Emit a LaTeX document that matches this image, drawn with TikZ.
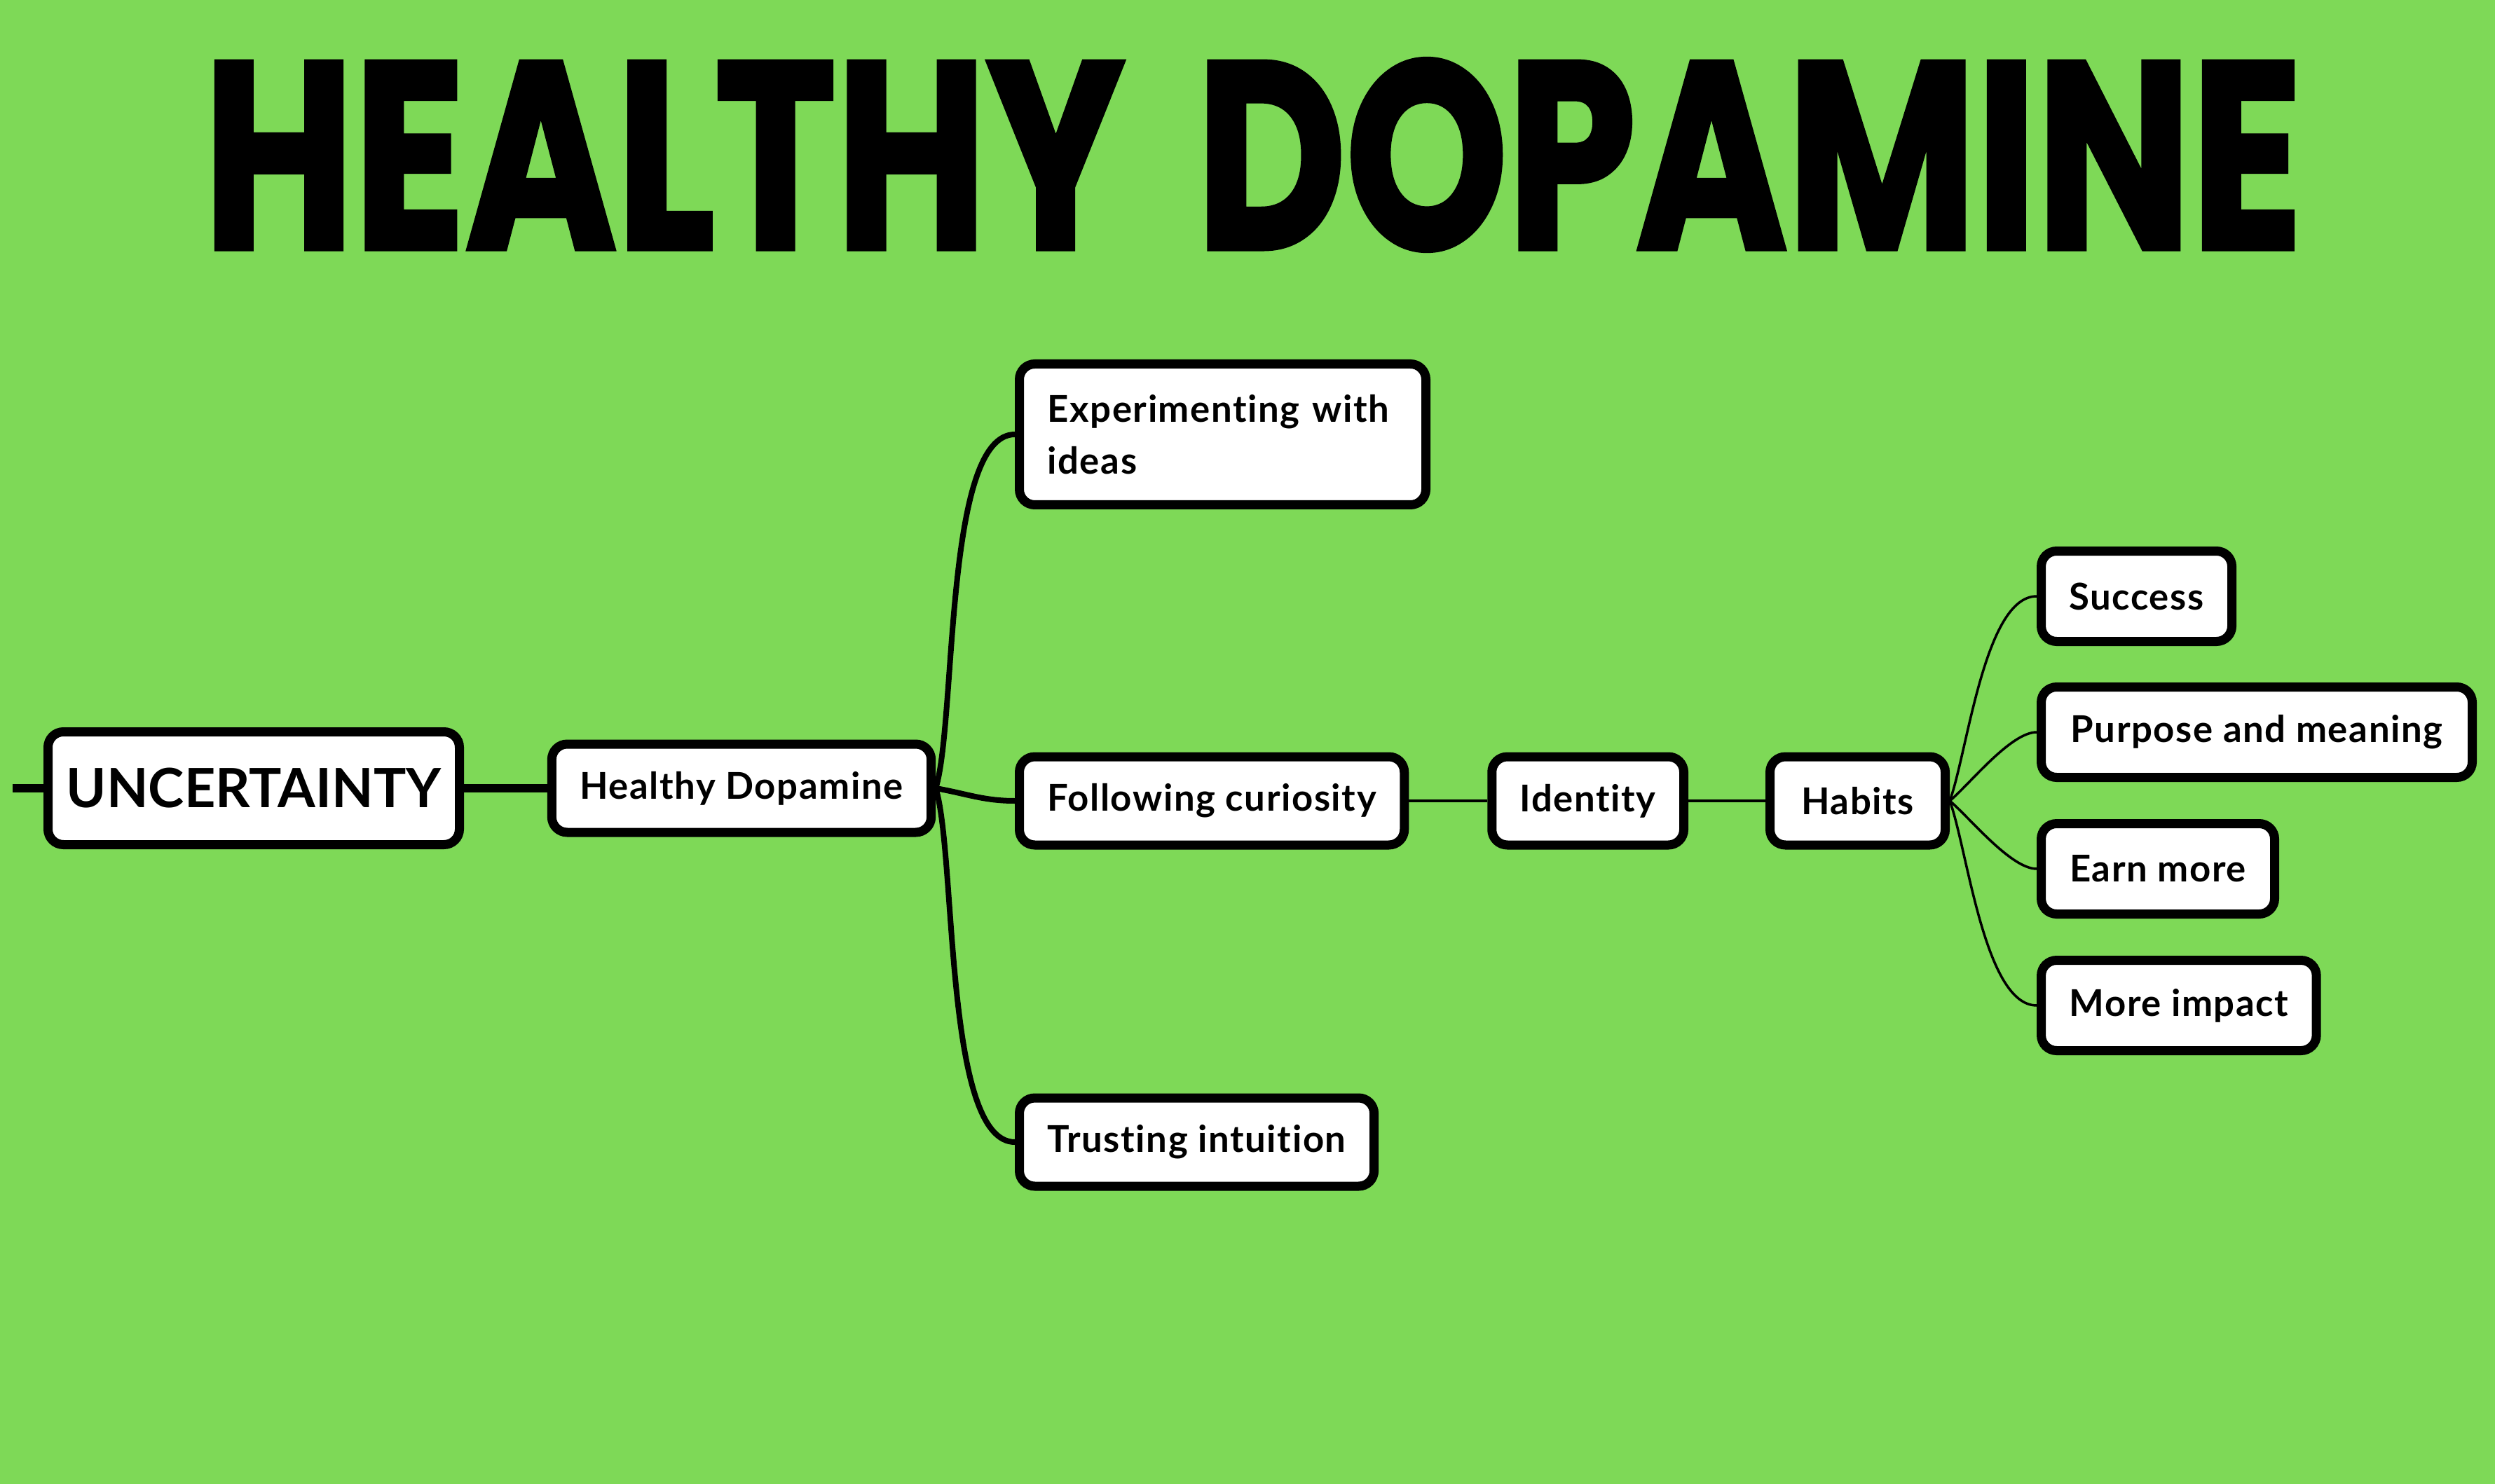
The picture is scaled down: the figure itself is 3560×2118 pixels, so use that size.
\documentclass[tikz,border=0pt]{standalone}
\usepackage{fontspec}
\usepackage{graphicx}
\setmainfont{Lato}[Ligatures=NoCommon]
\newfontfamily\boxfont{Lato}[LetterSpace=3, Ligatures=NoCommon]
\newfontfamily\titlefont{Poppins}[BoldFeatures={FakeBold=2}]
\usetikzlibrary{positioning}
\definecolor{MapGreen}{HTML}{7ED957}

\begin{document}
\begin{tikzpicture}[
  x=0.1mm, y=-0.1mm,
  node distance = 1.2cm,
  box/.style    = {draw=black, fill=white, line width=1.3mm, rounded corners=2.2mm,
                   minimum height=1.26cm, inner xsep=4mm, text=black,
                   font=\boxfont\fontsize{15}{21}\selectfont\bfseries},
  rootbox/.style = {box, minimum height=1.61cm, inner xsep=2mm,
                   font=\fontsize{22}{26}\selectfont\bfseries},
  leafbox/.style = {box, minimum height=1.29cm,
                   font=\boxfont\fontsize{15}{18}\selectfont\bfseries},
  title/.style  = {inner sep=0pt, text=black, font=\titlefont\bfseries},
  link/.style   = {line width=1.2mm},
  branch/.style = {line width=0.8mm},
  twig/.style   = {line width=0.35mm},
]
\fill[MapGreen] (0,0) rectangle (3560,2118);
\useasboundingbox (0,0) rectangle (3560,2118);

% heading
\node[title] (head) at (1788,221) {\resizebox{29.94cm}{2.7cm}{HEALTHY\hspace{0.35em}DOPAMINE}};

% main row
\coordinate (lend) at (18,1125);
\node[rootbox, minimum width=5.87cm] (unc) at (362,1125) {UNCERTAINTY};
\node[box, minimum width=5.41cm]  (hd)  at (1058,1125) {Healthy Dopamine};

\node[box, anchor=west, minimum height=2.01cm, text width=5.0cm, align=left] (exp) at (1448,620)
  {Experimenting with ideas};
\node[box, anchor=west, minimum width=5.46cm] (fol) at (1448,1143) {Following curiosity};
\node[box, anchor=west, minimum width=5.0cm]  (tru) at (1448,1630) {Trusting intuition};
\node[box, minimum width=2.66cm, right=1.12cm of fol] (ide) {Identity};
\node[box, minimum width=2.5cm,  right=1.1cm of ide]  (hab) {Habits};

% habit outcomes
\node[leafbox, anchor=west, minimum width=2.65cm] (suc) at (2906,851)  {Success};
\node[leafbox, anchor=west, minimum width=6.15cm] (pur) at (2906,1045) {Purpose and meaning};
\node[leafbox, anchor=west, minimum width=3.33cm] (ear) at (2906,1240) {Earn more};
\node[leafbox, anchor=west, minimum width=3.91cm] (imp) at (2906,1435) {More impact};

% connectors
\draw[link] (lend) -- (unc);
\draw[link] (unc) -- (hd);
\draw[branch] (hd.east) to[out=73, in=180, looseness=0.5] (exp.west);
\draw[branch] (hd.east) to[out=-10, in=180] (fol.west);
\draw[branch] (hd.east) to[out=-73, in=180, looseness=0.5] (tru.west);
\draw[twig] (fol) -- (ide);
\draw[twig] (ide) -- (hab);
\foreach \n/\a in {suc/70, pur/40, ear/-40, imp/-70}
  \draw[twig] (hab.east) to[out=\a, in=180, looseness=0.6] (\n.west);
\end{tikzpicture}
\end{document}
